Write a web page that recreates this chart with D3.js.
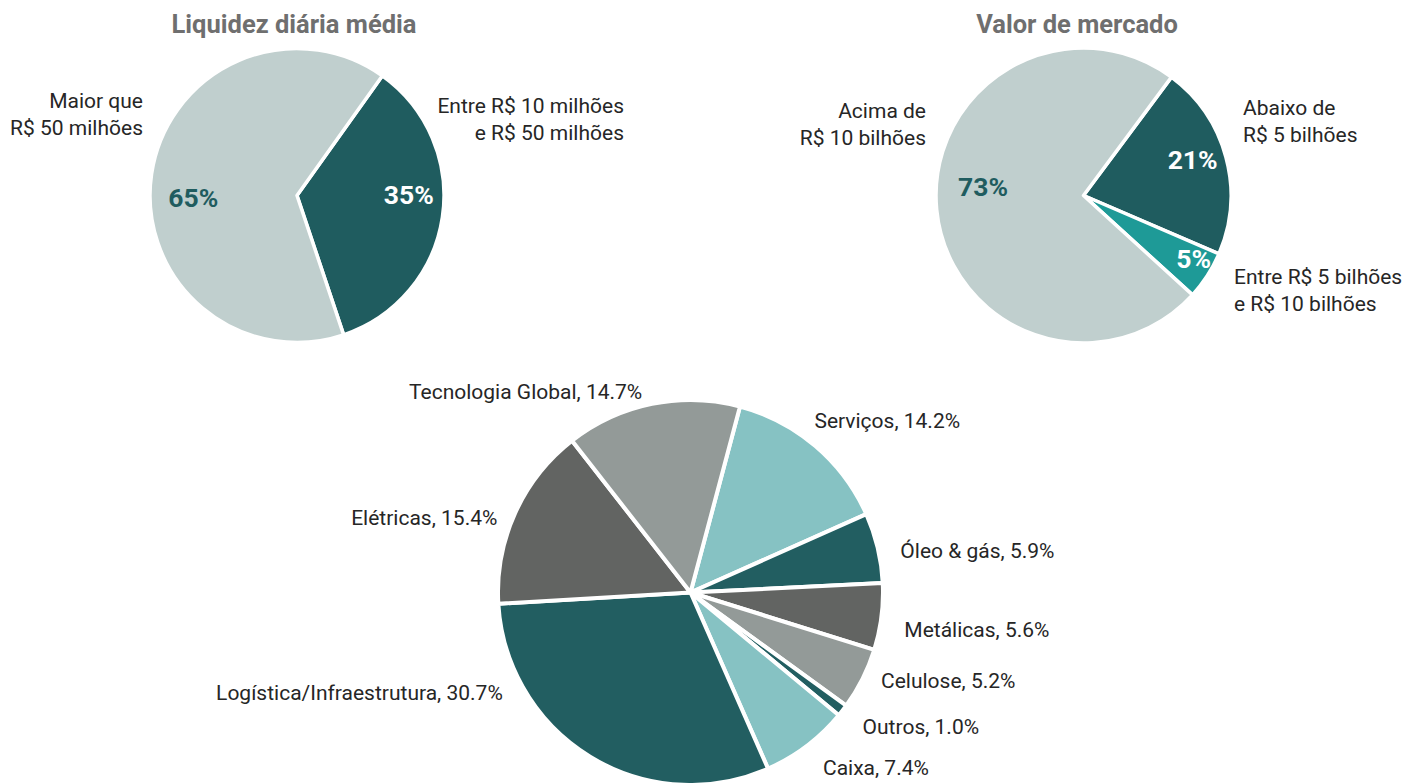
<!DOCTYPE html>
<html>
<head>
<meta charset="utf-8">
<title>Carteira</title>
<script src="https://d3js.org/d3.v7.min.js"></script>
<style>
  body{margin:0;background:#fff;}
  text{font-family:"Roboto","Inter",sans-serif;}
  .title{font-size:25.5px;font-weight:bold;fill:#6f6f6f;text-anchor:middle;}
  .lbl{font-size:21px;fill:#262626;}
  .pct{font-size:26.5px;font-weight:bold;text-anchor:middle;}
</style>
</head>
<body>
<script>
// Liquidez diária média
var liqCats = ["Entre R$ 10 milhões\ne R$ 50 milhões", "Maior que\nR$ 50 milhões"];
var liqVals = [35, 65];
// Valor de mercado
var mktCats = ["Abaixo de\nR$ 5 bilhões", "Entre R$ 5 bilhões\ne R$ 10 bilhões", "Acima de\nR$ 10 bilhões"];
var mktVals = [21.3, 5.3, 73.4];
// Setores
var secCats = ["Serviços", "Óleo & gás", "Metálicas", "Celulose", "Outros", "Caixa",
               "Logística/Infraestrutura", "Elétricas", "Tecnologia Global"];
var secVals = [14.2, 5.9, 5.6, 5.2, 1.0, 7.4, 30.7, 15.4, 14.7];

var W = 1411, H = 783;
var svg = d3.select("body").append("svg").attr("width", W).attr("height", H);
var rad = Math.PI / 180;

function drawPie(cfg){
  var g = svg.append("g").attr("transform", "translate(" + cfg.cx + "," + cfg.cy + ")");
  var pie = d3.pie().sort(null).value(function(d){ return d; })
    .startAngle(cfg.start * rad).endAngle(cfg.start * rad + 2 * Math.PI);
  var arcs = pie(cfg.vals);
  var arc = d3.arc().innerRadius(0).outerRadius(cfg.r);
  g.selectAll("path").data(arcs).enter().append("path")
    .attr("d", arc)
    .attr("fill", function(d, i){ return cfg.colors[i]; })
    .attr("stroke", "#fff").attr("stroke-width", cfg.sw)
    .attr("stroke-linejoin", "round");
  return {g: g, arcs: arcs};
}

function pctLabels(p, r, nudge, cols){
  var a = d3.arc().innerRadius(r).outerRadius(r);
  p.g.selectAll(".pct").data(p.arcs).enter().append("text").attr("class", "pct")
    .attr("x", function(d, i){ return a.centroid(d)[0] + nudge[i][0]; })
    .attr("y", function(d, i){ return a.centroid(d)[1] + nudge[i][1]; })
    .attr("dy", "0.36em")
    .attr("fill", function(d, i){ return cols[i]; })
    .text(function(d){ return Math.round(d.data) + "%"; });
}

// pie 1
var p1 = drawPie({cx: 297, cy: 195.5, r: 147, start: 35.5, vals: liqVals,
  colors: ["#1f5c5f", "#c0cfce"], sw: 3.5});
pctLabels(p1, 110, [[3, -17], [5, 18]], ["#fff", "#1f5c5f"]);

// pie 2
var p2 = drawPie({cx: 1083.5, cy: 195.5, r: 147.5, start: 36.6, vals: mktVals,
  colors: ["#1f5c5f", "#1e9a97", "#c0cfce"], sw: 3.5});
pctLabels(p2, 112, [[1, -7], [16, 2], [11, -20]], ["#fff", "#fff", "#1f5c5f"]);

// multi-line outer labels for the top pies
function outerLabels(p, cats, pos){
  var root = d3.select(p.g.node().parentNode);
  cats.forEach(function(c, i){
    var lines = c.split("\n");
    var t = root.append("text").attr("class", "lbl")
      .attr("text-anchor", pos[i][2])
      .attr("transform", "translate(" + pos[i][0] + "," + pos[i][1] + ")");
    lines.forEach(function(l, j){
      t.append("tspan").attr("x", 0).attr("y", j * 27).attr("dy", "0.35em").text(l);
    });
  });
}
outerLabels(p1, liqCats, [[624, 106, "end"], [143, 101, "end"]]);
outerLabels(p2, mktCats, [[1243, 108, "start"], [1234, 277, "start"], [926, 111, "end"]]);

svg.append("text").attr("class", "title").attr("x", 294).attr("y", 24).attr("dy", "0.35em")
  .text("Liquidez diária média");
svg.append("text").attr("class", "title").attr("x", 1077).attr("y", 24).attr("dy", "0.35em")
  .text("Valor de mercado");

// pie 3
var p3 = drawPie({cx: 690.5, cy: 592.5, r: 192.5, start: 14.9, vals: secVals,
  colors: ["#86c2c3", "#225e61", "#626462", "#939a98", "#225e61", "#86c2c3",
           "#225e61", "#626462", "#939a98"], sw: 4});
var lblArc3 = d3.arc().innerRadius(206.5).outerRadius(206.5);
var lbl3Nudge = [[-10, -15], [9, 6], [9, 11], [6, -5], [9, 8], [8, 10],
                 [-80, -76], [-5, 10], [-7, 1]];
p3.g.selectAll(".lbl").data(p3.arcs).enter().append("text").attr("class", "lbl")
  .attr("text-anchor", function(d){ return (d.startAngle + d.endAngle) / 2 < Math.PI ? "start" : "end"; })
  .attr("x", function(d, i){ return lblArc3.centroid(d)[0] + lbl3Nudge[i][0]; })
  .attr("y", function(d, i){ return lblArc3.centroid(d)[1] + lbl3Nudge[i][1]; })
  .attr("dy", "0.35em")
  .text(function(d, i){ return secCats[i] + ", " + d.data.toFixed(1) + "%"; });
</script>
</body>
</html>
